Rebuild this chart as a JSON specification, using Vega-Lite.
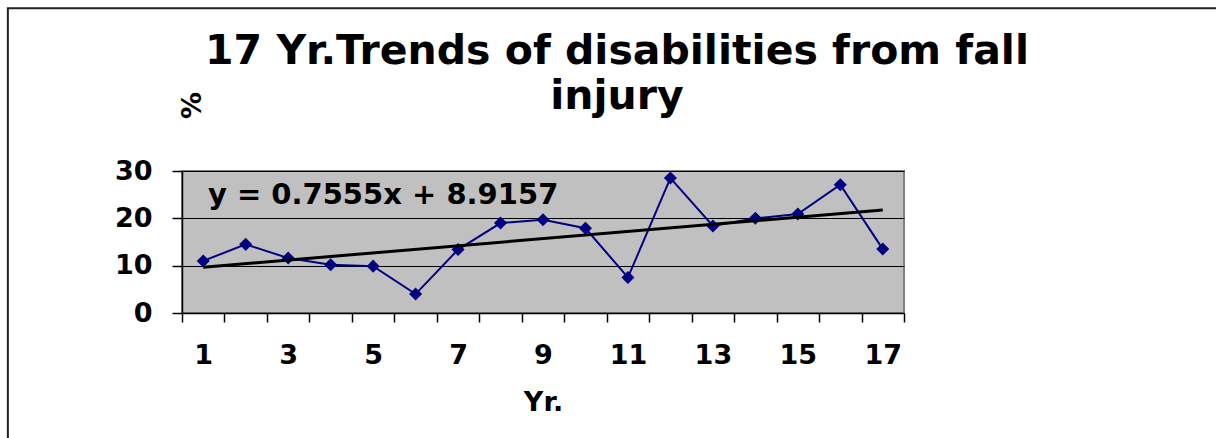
{
  "$schema": "https://vega.github.io/schema/vega-lite/v6.json",
  "width": 722,
  "height": 142,
  "autosize": {"type": "none"},
  "padding": {"left": 182, "top": 171, "right": 312, "bottom": 125},
  "background": "white",
  "title": {
    "text": ["17 Yr.Trends of disabilities from fall", "injury"],
    "font": "DejaVu Sans",
    "fontSize": 41,
    "fontWeight": "bold",
    "color": "black",
    "lineHeight": 45,
    "anchor": "middle",
    "frame": "group",
    "dx": 74,
    "dy": 111,
    "offset": 0
  },
  "config": {
    "view": {"fill": "#C0C0C0", "stroke": "#808080", "strokeWidth": 2},
    "axis": {
      "labelFont": "DejaVu Sans",
      "labelFontSize": 27,
      "labelFontWeight": "bold",
      "labelColor": "black",
      "titleFont": "DejaVu Sans",
      "titleFontSize": 27,
      "titleFontWeight": "bold",
      "titleColor": "black",
      "domainColor": "black",
      "domainWidth": 1.5,
      "tickColor": "black",
      "tickWidth": 1.5
    }
  },
  "data": {
    "values": [
      {"yr": 1, "pct": 11.0},
      {"yr": 2, "pct": 14.5},
      {"yr": 3, "pct": 11.6},
      {"yr": 4, "pct": 10.2},
      {"yr": 5, "pct": 9.9},
      {"yr": 6, "pct": 4.0},
      {"yr": 7, "pct": 13.4},
      {"yr": 8, "pct": 19.0},
      {"yr": 9, "pct": 19.7},
      {"yr": 10, "pct": 17.9},
      {"yr": 11, "pct": 7.5},
      {"yr": 12, "pct": 28.5},
      {"yr": 13, "pct": 18.4},
      {"yr": 14, "pct": 20.0},
      {"yr": 15, "pct": 20.9},
      {"yr": 16, "pct": 27.1},
      {"yr": 17, "pct": 13.5}
    ]
  },
  "encoding": {
    "x": {
      "field": "yr",
      "type": "quantitative",
      "scale": {"domain": [0.5, 17.5], "nice": false, "zero": false},
      "axis": {
        "title": "Yr.",
        "titleY": 89,
        "titleBaseline": "middle",
        "values": [0.5, 1, 1.5, 2.5, 3, 3.5, 4.5, 5, 5.5, 6.5, 7, 7.5, 8.5, 9, 9.5, 10.5, 11, 11.5, 12.5, 13, 13.5, 14.5, 15, 15.5, 16.5, 17, 17.5],
        "labelExpr": "datum.value % 2 == 1 ? format(datum.value, 'd') : ''",
        "tickOpacity": {"condition": {"test": "datum.value % 1 != 0", "value": 1}, "value": 0},
        "tickSize": 9,
        "labelPadding": 20,
        "labelOverlap": false,
        "labelFlush": false,
        "grid": false
      }
    },
    "y": {
      "field": "pct",
      "type": "quantitative",
      "scale": {"domain": [0, 30], "nice": false},
      "axis": {
        "title": "%",
        "titleAngle": 270,
        "titleX": 10,
        "titleY": -66,
        "titleAlign": "center",
        "titleBaseline": "middle",
        "values": [0, 10, 20, 30],
        "grid": true,
        "gridColor": "black",
        "gridWidth": 1,
        "tickSize": 10,
        "labelPadding": 20
      }
    }
  },
  "layer": [
    {
      "mark": {"type": "line", "color": "#000080", "strokeWidth": 2}
    },
    {
      "mark": {"type": "point", "shape": "diamond", "filled": true, "color": "#000080", "opacity": 1, "size": 170}
    },
    {
      "transform": [{"regression": "pct", "on": "yr", "method": "linear"}],
      "mark": {"type": "line", "color": "black", "strokeWidth": 3}
    },
    {
      "transform": [{"filter": "datum.yr == 1"}],
      "mark": {"type": "text", "align": "left", "baseline": "middle", "font": "DejaVu Sans", "fontSize": 29, "fontWeight": "bold", "color": "black"},
      "encoding": {
        "x": {"datum": 1.11},
        "y": {"datum": 24.9},
        "text": {"value": "y = 0.7555x + 8.9157"}
      }
    },
    {
      "transform": [{"filter": "datum.yr == 1"}],
      "mark": {"type": "rect", "fillOpacity": 0, "stroke": "#222222", "strokeWidth": 2, "clip": false},
      "encoding": {
        "x": {"datum": -3.6},
        "x2": {"datum": 40},
        "y": {"datum": 64.4},
        "y2": {"datum": -40}
      }
    }
  ]
}
